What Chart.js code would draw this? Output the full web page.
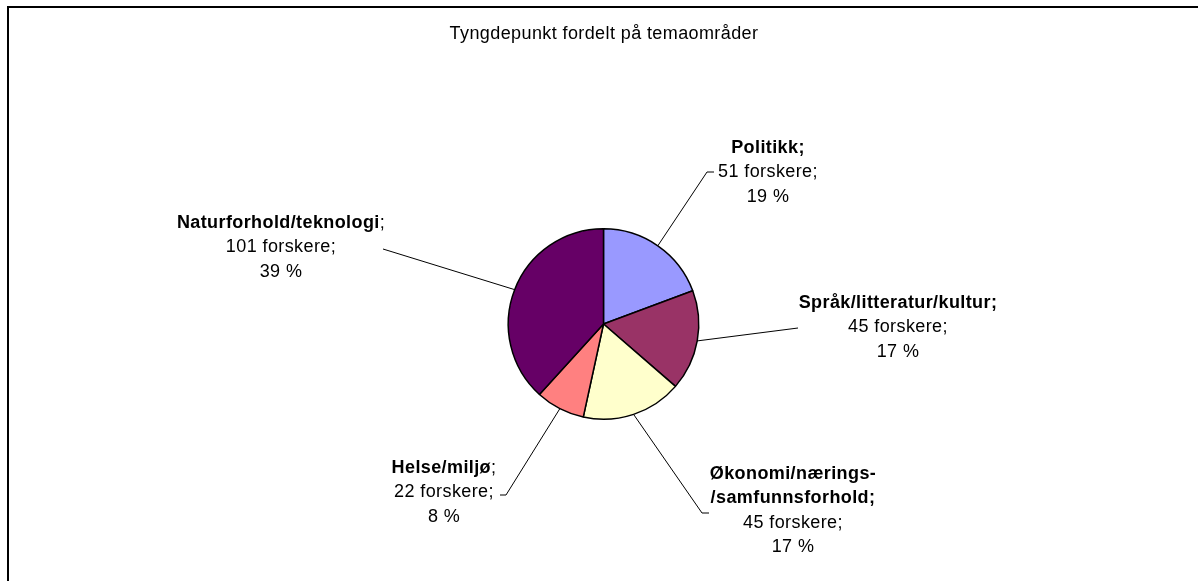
<!DOCTYPE html>
<html>
<head>
<meta charset="utf-8">
<script src="https://cdn.jsdelivr.net/npm/chart.js@4/dist/chart.umd.min.js"></script>
<style>
  html, body { margin: 0; padding: 0; background: #fff; }
  #wrap { width: 1198px; height: 581px; position: relative; }
</style>
</head>
<body>
<div id="wrap"><canvas id="pie" width="1198" height="581"></canvas></div>
<script>
// data
const categories = ['Politikk', 'Språk/litteratur/kultur', 'Økonomi/nærings-/samfunnsforhold', 'Helse/miljø', 'Naturforhold/teknologi'];
const researchers = [51, 45, 45, 22, 101];
const percentLabels = ['19 %', '17 %', '17 %', '8 %', '39 %'];
const nameLines = [['Politikk;'], ['Språk/litteratur/kultur;'], ['Økonomi/nærings-', '/samfunnsforhold;'], ['Helse/miljø'], ['Naturforhold/teknologi']];
const chartTitle = 'Tyngdepunkt fordelt på temaområder';

const sliceColors = ['#9999FF', '#993366', '#FFFFCC', '#FF8080', '#660066'];

// where each label block sits and how its leader line bends
const labelLayout = [
  { cx: 768, top: 148, boldSemi: true,  elbow: [707, 172], end: [714, 172] },
  { cx: 898, top: 303, boldSemi: true,  elbow: null,       end: [798, 328] },
  { cx: 793, top: 474, boldSemi: true,  elbow: [702, 513], end: [709, 513] },
  { cx: 444, top: 468, boldSemi: false, elbow: [506, 495], end: [500, 495] },
  { cx: 281, top: 223, boldSemi: false, elbow: null,       end: [383, 249] }
];
const FONT = '"Liberation Sans", Arial, sans-serif';
const SIZE = '18px ';
const LINE_H = 24.5;

const labelsPlugin = {
  id: 'excelLabels',
  afterDraw(chart) {
    const ctx = chart.ctx;
    ctx.save();

    // frame (only top and left edges fall inside the picture)
    ctx.strokeStyle = '#000';
    ctx.lineWidth = 2;
    ctx.beginPath();
    ctx.moveTo(8, 581);
    ctx.lineTo(8, 7);
    ctx.lineTo(1198, 7);
    ctx.stroke();

    ctx.fillStyle = '#000';
    ctx.textBaseline = 'middle';
    ctx.letterSpacing = '0.4px';

    ctx.font = SIZE + FONT;
    ctx.textAlign = 'center';
    ctx.fillText(chartTitle, 604, 34);

    const meta = chart.getDatasetMeta(0);
    meta.data.forEach((arc, i) => {
      const lay = labelLayout[i];
      // leader line from the middle of the slice edge
      const p = arc.getProps(['x', 'y', 'startAngle', 'endAngle', 'outerRadius'], true);
      const mid = (p.startAngle + p.endAngle) / 2;
      const sx = p.x + Math.cos(mid) * p.outerRadius;
      const sy = p.y + Math.sin(mid) * p.outerRadius;
      ctx.lineWidth = 1;
      ctx.strokeStyle = '#000';
      ctx.beginPath();
      ctx.moveTo(sx, sy);
      if (lay.elbow) ctx.lineTo(lay.elbow[0], lay.elbow[1]);
      ctx.lineTo(lay.end[0], lay.end[1]);
      ctx.stroke();

      // text block
      const lines = nameLines[i];
      let y = lay.top;
      lines.forEach((ln, k) => {
        const last = k === lines.length - 1;
        ctx.textAlign = 'left';
        ctx.font = 'bold ' + SIZE + FONT;
        const wb = ctx.measureText(ln).width;
        let wn = 0;
        if (last && !lay.boldSemi) {
          ctx.font = SIZE + FONT;
          wn = ctx.measureText(';').width;
        }
        const x0 = lay.cx - (wb + wn) / 2;
        ctx.font = 'bold ' + SIZE + FONT;
        ctx.fillText(ln, x0, y);
        if (wn) {
          ctx.font = SIZE + FONT;
          ctx.fillText(';', x0 + wb, y);
        }
        y += LINE_H;
      });
      ctx.font = SIZE + FONT;
      ctx.textAlign = 'center';
      ctx.fillText(researchers[i] + ' forskere;', lay.cx, y);
      y += LINE_H;
      ctx.fillText(percentLabels[i], lay.cx, y);
    });
    ctx.restore();
  }
};

new Chart(document.getElementById('pie'), {
  type: 'pie',
  data: {
    labels: categories,
    datasets: [{
      data: researchers,
      backgroundColor: sliceColors,
      borderColor: '#000',
      borderWidth: 1.5
    }]
  },
  options: {
    responsive: false,
    animation: false,
    layout: { padding: { top: 228, bottom: 161, left: 300, right: 291 } },
    plugins: { legend: { display: false }, tooltip: { enabled: false }, title: { display: false } }
  },
  plugins: [labelsPlugin]
});
</script>
</body>
</html>
